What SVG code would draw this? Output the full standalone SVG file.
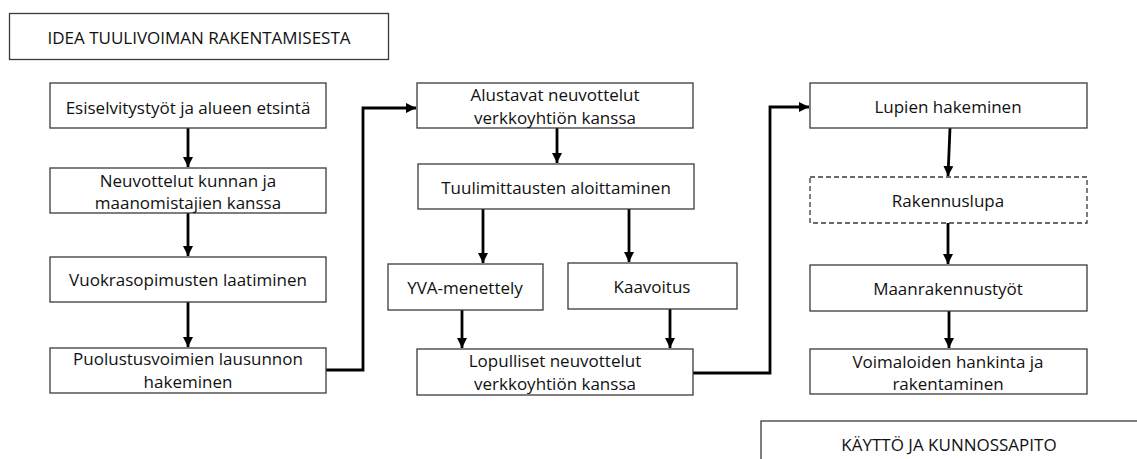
<svg xmlns="http://www.w3.org/2000/svg" width="1137" height="459" viewBox="0 0 1137 459">
<defs>
<style>
.box{fill:#fff;stroke:#3a3a3a;stroke-width:1.3}
.dash{fill:#fff;stroke:#3a3a3a;stroke-width:1.3;stroke-dasharray:5 3}
.t{font-family:"Open Sans","Liberation Sans",sans-serif;font-size:17px;fill:#111;text-anchor:middle;dominant-baseline:central}
.c{fill:none;stroke:#000;stroke-width:2.8}
</style>
<marker id="ah" markerUnits="userSpaceOnUse" markerWidth="10" markerHeight="10" viewBox="0 0 10 10" refX="10" refY="5" orient="auto">
<path d="M0,0 L10,5 L0,10 Z" fill="#000"/>
</marker>
</defs>
<rect width="1137" height="459" fill="#fff"/>

<g id="connectors">
<line class="c" x1="188" y1="128" x2="188" y2="167" marker-end="url(#ah)"/>
<line class="c" x1="188" y1="213" x2="188" y2="256" marker-end="url(#ah)"/>
<line class="c" x1="188" y1="302" x2="188" y2="347" marker-end="url(#ah)"/>
<polyline class="c" points="326,370 363,370 363,108 416,108" marker-end="url(#ah)"/>
<line class="c" x1="557" y1="128" x2="557" y2="163" marker-end="url(#ah)"/>
<line class="c" x1="483" y1="209" x2="483" y2="263" marker-end="url(#ah)"/>
<line class="c" x1="629" y1="209" x2="629" y2="262" marker-end="url(#ah)"/>
<line class="c" x1="462" y1="310" x2="462" y2="348" marker-end="url(#ah)"/>
<line class="c" x1="670" y1="309" x2="670" y2="348" marker-end="url(#ah)"/>
<polyline class="c" points="693,373 770,373 770,107 809,107" marker-end="url(#ah)"/>
<line class="c" x1="950" y1="128" x2="948" y2="176" marker-end="url(#ah)"/>
<line class="c" x1="948" y1="223" x2="948" y2="264" marker-end="url(#ah)"/>
<line class="c" x1="949" y1="311" x2="949" y2="348" marker-end="url(#ah)"/>
</g>

<g id="idea">
<rect class="box" x="9.5" y="13.5" width="379" height="46"/>
<text class="t" x="199" y="37">IDEA TUULIVOIMAN RAKENTAMISESTA</text>
</g>
<g id="esiselvitys">
<rect class="box" x="50" y="83" width="276" height="45"/>
<text class="t" x="188" y="107">Esiselvitystyöt ja alueen etsintä</text>
</g>
<g id="neuvottelut">
<rect class="box" x="50" y="168" width="276" height="45"/>
<text class="t" x="188" y="180">Neuvottelut kunnan ja</text>
<text class="t" x="188" y="202">maanomistajien kanssa</text>
</g>
<g id="vuokrasopimus">
<rect class="box" x="50" y="257" width="276" height="45"/>
<text class="t" x="188" y="279">Vuokrasopimusten laatiminen</text>
</g>
<g id="puolustusvoimat">
<rect class="box" x="50" y="348" width="276" height="45"/>
<text class="t" x="188" y="358">Puolustusvoimien lausunnon</text>
<text class="t" x="188" y="381">hakeminen</text>
</g>
<g id="alustavat">
<rect class="box" x="417" y="83" width="276" height="45"/>
<text class="t" x="555" y="94">Alustavat neuvottelut</text>
<text class="t" x="555" y="117">verkkoyhtiön kanssa</text>
</g>
<g id="tuulimittaus">
<rect class="box" x="418" y="164" width="276" height="45"/>
<text class="t" x="556" y="187">Tuulimittausten aloittaminen</text>
</g>
<g id="yva">
<rect class="box" x="388" y="264" width="155" height="46"/>
<text class="t" x="465" y="287">YVA-menettely</text>
</g>
<g id="kaavoitus">
<rect class="box" x="568" y="263" width="169" height="46"/>
<text class="t" x="652" y="286">Kaavoitus</text>
</g>
<g id="lopulliset">
<rect class="box" x="417" y="349" width="276" height="46"/>
<text class="t" x="555" y="360">Lopulliset neuvottelut</text>
<text class="t" x="555" y="383">verkkoyhtiön kanssa</text>
</g>
<g id="lupien">
<rect class="box" x="810" y="83" width="277" height="45"/>
<text class="t" x="948" y="106">Lupien hakeminen</text>
</g>
<g id="rakennuslupa">
<rect class="dash" x="810" y="177" width="277" height="46"/>
<text class="t" x="948" y="200">Rakennuslupa</text>
</g>
<g id="maanrakennus">
<rect class="box" x="810" y="265" width="277" height="46"/>
<text class="t" x="948" y="288">Maanrakennustyöt</text>
</g>
<g id="voimalat">
<rect class="box" x="810" y="349" width="277" height="45"/>
<text class="t" x="948" y="361">Voimaloiden hankinta ja</text>
<text class="t" x="948" y="383">rakentaminen</text>
</g>
<g id="kaytto">
<rect class="box" x="761" y="421" width="400" height="60"/>
<text class="t" x="949" y="444">KÄYTTÖ JA KUNNOSSAPITO</text>
</g>
</svg>
